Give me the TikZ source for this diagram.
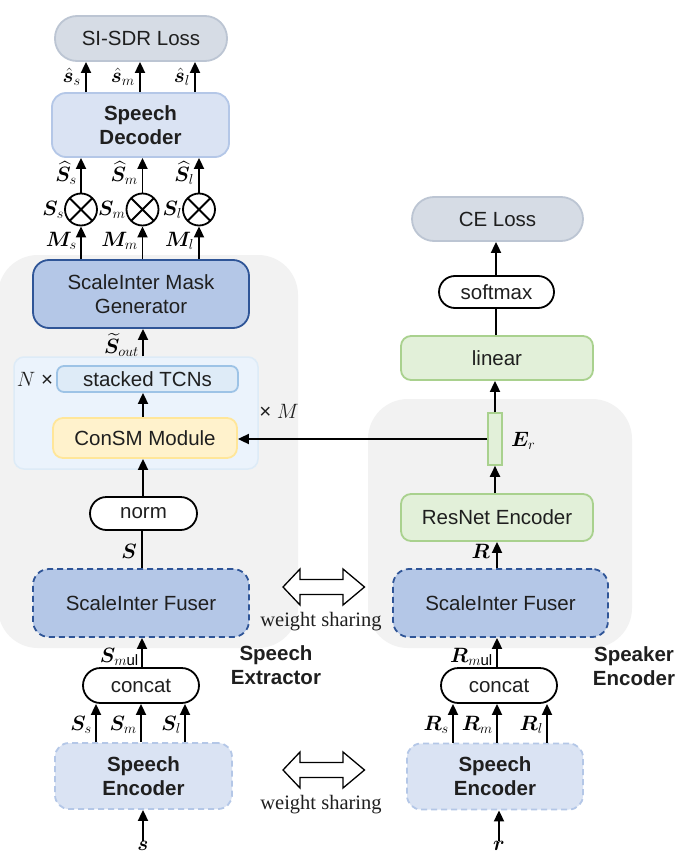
\documentclass[tikz,border=0pt]{standalone}
\usepackage{amsmath,bm}
\usepackage{fontspec}
\setmainfont{Liberation Sans}
\newfontfamily\tnr{Liberation Serif}
\usetikzlibrary{arrows.meta,calc}
\definecolor{lossfill}{HTML}{D6DCE5}
\definecolor{lossdraw}{HTML}{BCC5D3}
\definecolor{decfill}{HTML}{DAE3F3}
\definecolor{decdraw}{HTML}{B4C7E7}
\definecolor{maskfill}{HTML}{B4C7E7}
\definecolor{maskdraw}{HTML}{2F5597}
\definecolor{grayfill}{HTML}{F2F2F2}
\definecolor{contfill}{HTML}{EBF3FC}
\definecolor{contdraw}{HTML}{DDEBF7}
\definecolor{tcnfill}{HTML}{DEEBF7}
\definecolor{tcndraw}{HTML}{9DC3E6}
\definecolor{consmfill}{HTML}{FFF2CC}
\definecolor{consmdraw}{HTML}{FFE699}
\definecolor{grfill}{HTML}{E2F0D9}
\definecolor{grdraw}{HTML}{A9D18E}
\definecolor{txtc}{HTML}{1F1F1F}
\newcommand{\uparr}[4]{\coordinate (tmpx) at (#2,0); \draw[#1] (#3 -| tmpx) -- (#4 -| tmpx);}
\begin{document}
\begin{tikzpicture}[x=1pt,y=-1pt,
  txt/.style={font=\fontsize{20.5}{24}\selectfont, text=txtc},
  bxt/.style={font=\fontsize{20.5}{24}\selectfont\bfseries, text=txtc},
  box/.style={draw, line width=1.8pt, align=center, inner sep=0pt, txt},
  lossbox/.style={box, fill=lossfill, draw=lossdraw},
  decbox/.style={box, fill=decfill, draw=decdraw, bxt},
  maskbox/.style={box, fill=maskfill, draw=maskdraw},
  fuserbox/.style={box, fill=maskfill, draw=maskdraw, dash pattern=on 6pt off 4pt},
  encbox/.style={box, fill=decfill, draw=decdraw, dash pattern=on 6pt off 4pt, bxt},
  pill/.style={box, fill=white, draw=black},
  grbox/.style={box, fill=grfill, draw=grdraw},
  otimes/.style={circle, draw=black, line width=1.8pt, minimum size=32pt, inner sep=0pt,
    path picture={\draw[line width=1.8pt] (path picture bounding box.north west) -- (path picture bounding box.south east)
      (path picture bounding box.north east) -- (path picture bounding box.south west);}},
  arr/.style={-{Triangle[length=11pt,width=10pt]}, line width=1.8pt, draw=black},
  ln/.style={line width=1.8pt, draw=black},
  ml/.style={font=\fontsize{21.5}{24}\selectfont, inner sep=0pt, text=black},
  grp/.style={fill=grayfill, draw=none, rounded corners=40pt}
]
\useasboundingbox (0,0) rectangle (688,856);
\fill[white] (0,0) rectangle (688,856);
% background groups
\path[grp] (-2,255) rectangle (298,648);
\path[grp] (368,399) rectangle (632,648);

% left column
\node[lossbox, minimum width=172pt, minimum height=45pt, rounded corners=22pt] (siloss) at (141,38.5) {SI-SDR Loss};
\node[decbox, minimum width=177pt, minimum height=64pt, rounded corners=14pt] (dec) at (140.5,125) {Speech\\Decoder};
\node[otimes] (ox1) at (81,209.5) {};
\node[otimes] (ox2) at (142.5,209.5) {};
\node[otimes] (ox3) at (199,209.5) {};
\node[maskbox, minimum width=216pt, minimum height=68pt, rounded corners=16pt] (mask) at (141,294) {ScaleInter Mask\\Generator};
\node[box, fill=contfill, draw=contdraw, line width=1.5pt, minimum width=244pt, minimum height=112pt, rounded corners=10pt] (cont) at (136,413) {};
\node[box, fill=tcnfill, draw=tcndraw, minimum width=181pt, minimum height=26pt, rounded corners=7pt] (tcn) at (147.5,379) {stacked TCNs};
\node[box, fill=consmfill, draw=consmdraw, minimum width=184pt, minimum height=40pt, rounded corners=10pt] (consm) at (145,438) {ConSM Module};
\node[txt, inner sep=0pt] (nx) at (35,379) {$N$ ×};
\node[txt, inner sep=0pt] (mx) at (279,411) {× $M$};
\node[pill, minimum width=107pt, minimum height=33pt, rounded corners=16.5pt] (norm) at (143.5,513.5) {norm};
\node[fuserbox, minimum width=216pt, minimum height=68pt, rounded corners=16pt] (fuserL) at (141,603) {ScaleInter Fuser};
\node[pill, minimum width=116pt, minimum height=35pt, rounded corners=17.5pt] (concatL) at (141,685.5) {concat};
\node[encbox, minimum width=177pt, minimum height=66pt, rounded corners=14pt] (encL) at (143.5,776) {Speech\\Encoder};
\node[ml] (sin) at (143,846) {$\bm{s}$};
\node[bxt, align=center, inner sep=0pt] (extr) at (276,665) {Speech\\Extractor};

% right column
\node[lossbox, minimum width=171pt, minimum height=44pt, rounded corners=22pt] (ce) at (497.5,219) {CE Loss};
\node[pill, minimum width=115pt, minimum height=32pt, rounded corners=16pt] (softmax) at (496.5,292) {softmax};
\node[grbox, minimum width=192pt, minimum height=44pt, rounded corners=10pt] (linear) at (497,358) {linear};
\node[box, fill=grfill, draw=grdraw, line width=1.5pt, minimum width=14pt, minimum height=52pt] (er) at (495,439) {};
\node[grbox, minimum width=192pt, minimum height=47pt, rounded corners=10pt] (resnet) at (497,517.5) {ResNet Encoder};
\node[fuserbox, minimum width=215pt, minimum height=68pt, rounded corners=16pt] (fuserR) at (500.5,603) {ScaleInter Fuser};
\node[pill, minimum width=116pt, minimum height=35pt, rounded corners=17.5pt] (concatR) at (499,685.5) {concat};
\node[encbox, minimum width=176pt, minimum height=66pt, rounded corners=14pt] (encR) at (495,776.5) {Speech\\Encoder};
\node[ml] (rin) at (499,846) {$\bm{r}$};
\node[bxt, align=center, inner sep=0pt] (spk) at (634,666) {Speaker\\Encoder};

% weight sharing
\foreach \cy/\nm in {587/da1,770/da2}{
  \coordinate (\nm) at (321.5,\cy);
  \draw[line width=1.3pt, fill=white] ($(\nm)+(-38.5,0)$) -- ++(17,-18) -- ++(0,10.5) -- ++(43,0) -- ++(0,-10.5)
    -- ++(21.5,18) -- ++(-21.5,18) -- ++(0,-10.5) -- ++(-43,0) -- ++(0,10.5) -- cycle;
}
\node[font=\fontsize{20.5}{24}\selectfont\tnr, inner sep=0pt, text=txtc] (ws1) at (321,622) {weight sharing};
\node[font=\fontsize{20.5}{24}\selectfont\tnr, inner sep=0pt, text=txtc] (ws2) at (321,805) {weight sharing};

% arrows left
\uparr{arr}{86}{dec.north}{siloss.south}
\uparr{arr}{140}{dec.north}{siloss.south}
\uparr{arr}{195}{dec.north}{siloss.south}
\draw[arr] (ox1.north) -- (ox1.north |- dec.south);
\draw[arr] (ox2.north) -- (ox2.north |- dec.south);
\draw[arr] (ox3.north) -- (ox3.north |- dec.south);
\draw[arr] (ox1.south |- mask.north) -- (ox1.south);
\draw[arr] (ox2.south |- mask.north) -- (ox2.south);
\draw[arr] (ox3.south |- mask.north) -- (ox3.south);
\uparr{arr}{143}{cont.north}{mask.south}
\uparr{arr}{143}{consm.north}{tcn.south}
\uparr{arr}{143}{norm.north}{consm.south}
\uparr{ln}{142}{fuserL.north}{norm.south}
\uparr{arr}{142}{concatL.north}{fuserL.south}
\uparr{arr}{96}{encL.north}{concatL.south}
\uparr{arr}{141}{encL.north}{concatL.south}
\uparr{arr}{185}{encL.north}{concatL.south}
\draw[arr] (sin.north) -- (sin.north |- encL.south);

% arrows right
\uparr{arr}{496}{softmax.north}{ce.south}
\uparr{ln}{496}{linear.north}{softmax.south}
\draw[arr] (er.north) -- (er.north |- linear.south);
\draw[arr] (er.south |- resnet.north) -- (er.south);
\uparr{arr}{497}{fuserR.north}{resnet.south}
\uparr{arr}{497}{concatR.north}{fuserR.south}
\uparr{arr}{453}{encR.north}{concatR.south}
\uparr{arr}{497}{encR.north}{concatR.south}
\uparr{arr}{547}{encR.north}{concatR.south}
\draw[arr] (rin.north) -- (rin.north |- encR.south);
\draw[arr] (er.west) -- (er.west -| consm.east);

% math labels
\node[ml, anchor=east] (l1) at (81,77) {$\hat{\bm{s}}_s$};
\node[ml, anchor=east] (l2) at (135,77) {$\hat{\bm{s}}_m$};
\node[ml, anchor=east] (l3) at (190,77) {$\hat{\bm{s}}_l$};
\node[ml, anchor=east] (l4) at (77,173) {$\widehat{\bm{S}}_s$};
\node[ml, anchor=east] (l5) at (138,173) {$\widehat{\bm{S}}_m$};
\node[ml, anchor=east] (l6) at (194,173) {$\widehat{\bm{S}}_l$};
\node[ml, anchor=east] (l7) at (ox1.west) {$\bm{S}_s$};
\node[ml, anchor=east] (l8) at (ox2.west) {$\bm{S}_m$};
\node[ml, anchor=east] (l9) at (ox3.west) {$\bm{S}_l$};
\node[ml, anchor=east] (l10) at (77,241) {$\bm{M}_s$};
\node[ml, anchor=east] (l11) at (138,241) {$\bm{M}_m$};
\node[ml, anchor=east] (l12) at (194,241) {$\bm{M}_l$};
\node[ml, anchor=east] (l13) at (139,345) {$\widetilde{\bm{S}}_{out}$};
\node[ml, anchor=east] (l14) at (137,551) {$\bm{S}$};
\node[ml, anchor=east] (l15) at (139,657) {$\bm{S}_{m\mathrm{ul}}$};
\node[ml, anchor=east] (l16) at (92,725) {$\bm{S}_s$};
\node[ml, anchor=east] (l17) at (137,725) {$\bm{S}_m$};
\node[ml, anchor=east] (l18) at (181,725) {$\bm{S}_l$};
\node[ml, anchor=west] (l19) at (511,441) {$\bm{E}_r$};
\node[ml, anchor=east] (l20) at (490,551) {$\bm{R}$};
\node[ml, anchor=east] (l21) at (493,657) {$\bm{R}_{m\mathrm{ul}}$};
\node[ml, anchor=east] (l22) at (449,725) {$\bm{R}_s$};
\node[ml, anchor=east] (l23) at (493,725) {$\bm{R}_m$};
\node[ml, anchor=east] (l24) at (543,725) {$\bm{R}_l$};
\end{tikzpicture}
\end{document}
